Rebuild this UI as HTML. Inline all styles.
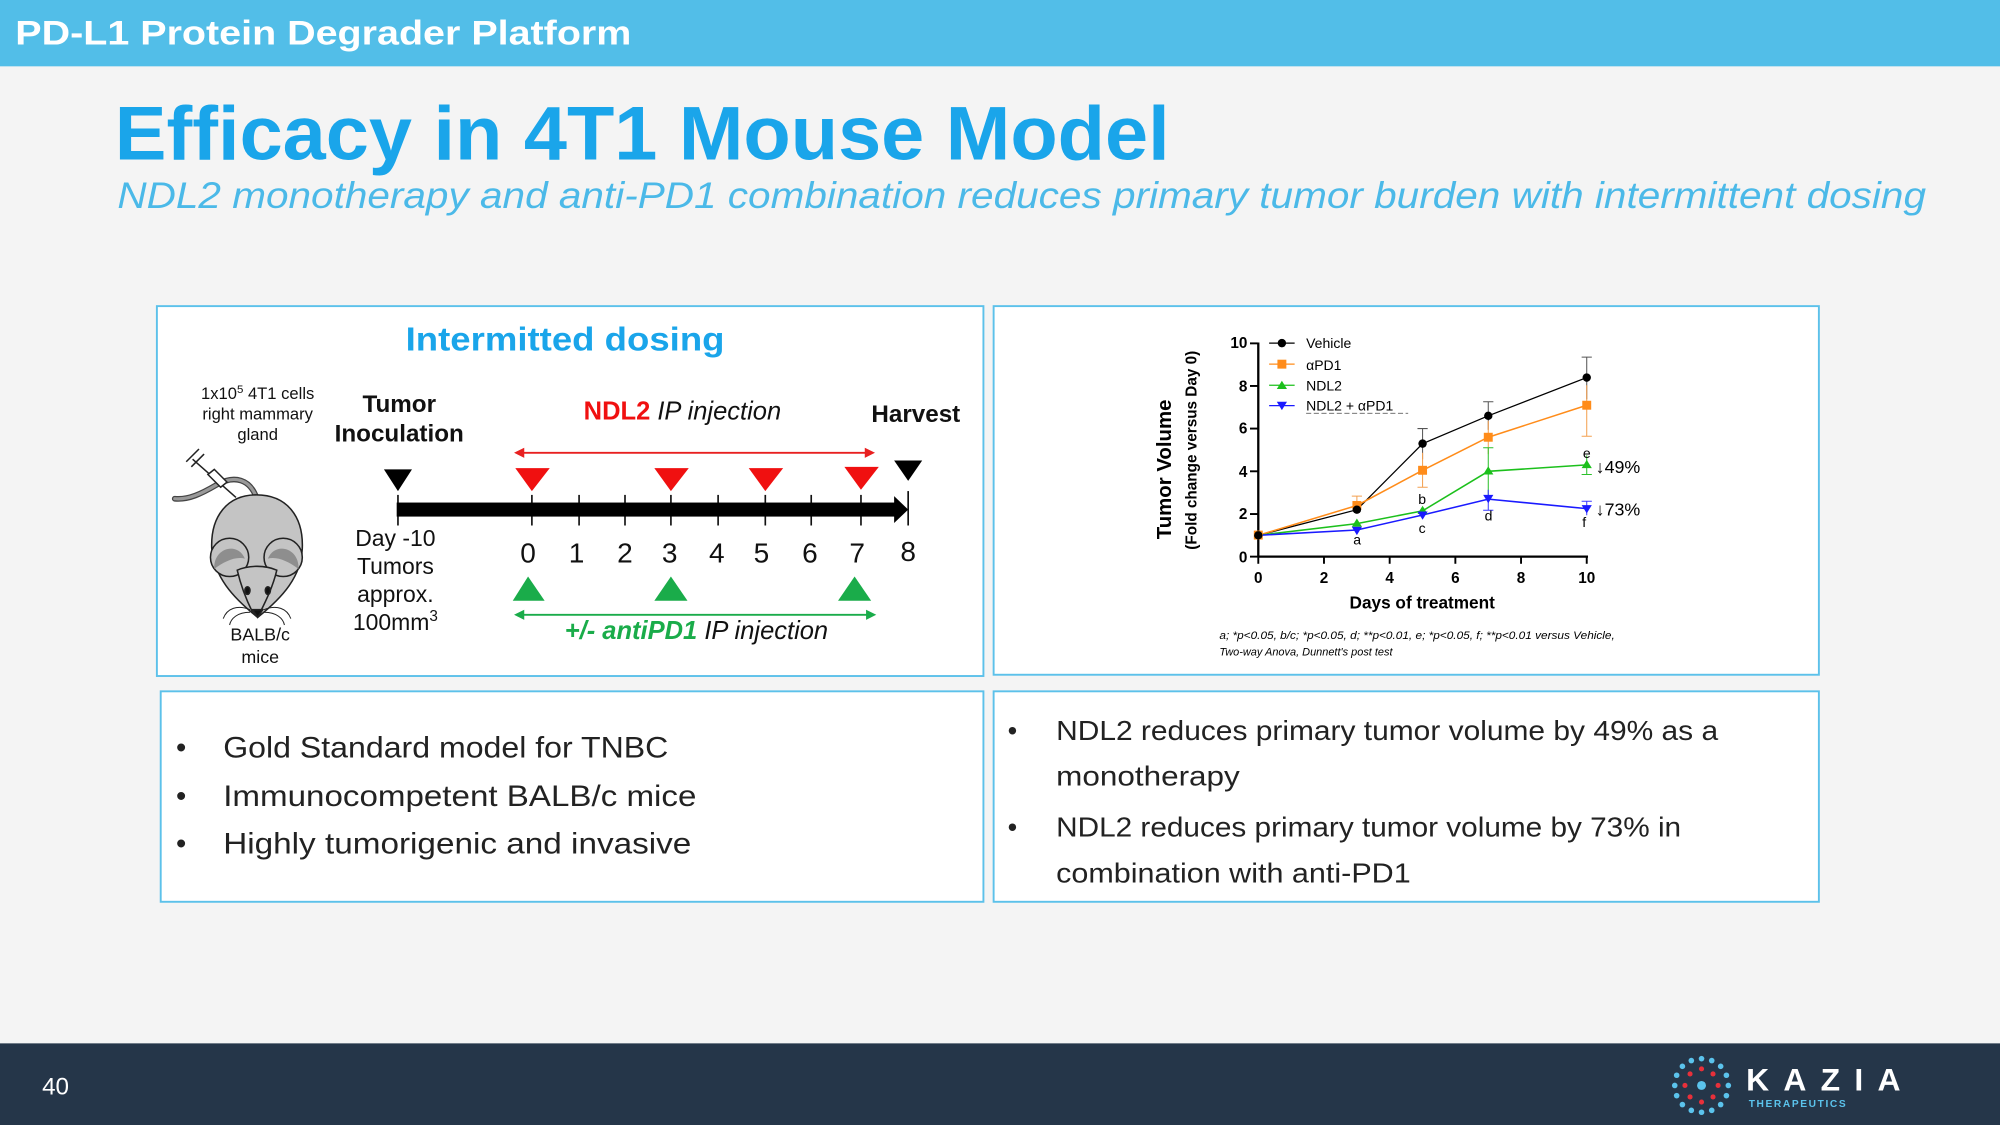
<!DOCTYPE html>
<html><head><meta charset="utf-8"><style>
html,body{margin:0;padding:0;background:#f4f4f4}
svg{display:block}
text{font-family:"Liberation Sans",sans-serif}
</style></head><body>
<svg width="2000" height="1125" viewBox="0 0 1568 882" xmlns="http://www.w3.org/2000/svg">
<rect width="1568" height="882" fill="#f4f4f4"/>
<rect width="1568" height="52" fill="#52bee8"/>
<text x="12" y="35" font-size="27" font-weight="bold" fill="#fff" textLength="483" lengthAdjust="spacingAndGlyphs">PD-L1 Protein Degrader Platform</text>
<text x="90" y="125" font-size="60" font-weight="bold" fill="#1aa5ea" textLength="827" lengthAdjust="spacingAndGlyphs">Efficacy in 4T1 Mouse Model</text>
<text x="92" y="163" font-size="29" font-style="italic" fill="#4bb9e8" textLength="1418" lengthAdjust="spacingAndGlyphs">NDL2 monotherapy and anti-PD1 combination reduces primary tumor burden with intermittent dosing</text>

<g fill="#fff" stroke="#5cc1ea" stroke-width="1.5">
<rect x="123" y="240" width="648" height="290"/>
<rect x="779" y="240" width="647" height="289"/>
<rect x="126" y="542" width="645" height="165"/>
<rect x="779" y="542" width="647" height="165"/>
</g>

<!-- Left diagram -->
<text x="318" y="275" font-size="26" font-weight="bold" fill="#1aa5ea" textLength="250" lengthAdjust="spacingAndGlyphs">Intermitted dosing</text>
<g font-size="13" fill="#111" text-anchor="middle">
<text x="202" y="313">1x10<tspan font-size="9" dy="-5">5</tspan><tspan dy="5"> 4T1 cells</tspan></text>
<text x="202" y="329">right mammary</text>
<text x="202" y="345">gland</text>
<text x="204" y="502" font-size="14">BALB/c</text>
<text x="204" y="520" font-size="14">mice</text>
</g>
<g font-size="19" font-weight="bold" fill="#111" text-anchor="middle">
<text x="313" y="323">Tumor</text>
<text x="313" y="346">Inoculation</text>
<text x="718" y="331">Harvest</text>
</g>
<text x="535" y="329" font-size="20" text-anchor="middle"><tspan fill="#f01010" font-weight="bold">NDL2</tspan><tspan font-style="italic" fill="#111"> IP injection</tspan></text>
<text x="546" y="501" font-size="20" text-anchor="middle"><tspan fill="#1aac4a" font-weight="bold" font-style="italic">+/- antiPD1</tspan><tspan font-style="italic" fill="#111"> IP injection</tspan></text>
<g font-size="18" fill="#111" text-anchor="middle">
<text x="310" y="428">Day -10</text>
<text x="310" y="450">Tumors</text>
<text x="310" y="472">approx.</text>
<text x="310" y="494">100mm<tspan font-size="12" dy="-7">3</tspan></text>
</g>
<g stroke="#e82020" stroke-width="1.5" fill="#e82020">
<line x1="408" y1="355" x2="681" y2="355"/>
<polygon points="403,355 411,351 411,359" stroke="none"/>
<polygon points="686,355 678,351 678,359" stroke="none"/>
</g>
<g stroke="#1aac4a" stroke-width="1.5" fill="#1aac4a">
<line x1="408" y1="482" x2="681" y2="482"/>
<polygon points="403,482 411,478 411,486" stroke="none"/>
<polygon points="687,482 679,478 679,486" stroke="none"/>
</g>
<g stroke="#111" stroke-width="1.3">
<line x1="312" y1="388" x2="312" y2="412"/>
<line x1="417" y1="388" x2="417" y2="412"/><line x1="454" y1="388" x2="454" y2="412"/>
<line x1="490" y1="388" x2="490" y2="412"/><line x1="526" y1="388" x2="526" y2="412"/>
<line x1="563" y1="388" x2="563" y2="412"/><line x1="600" y1="388" x2="600" y2="412"/>
<line x1="636" y1="388" x2="636" y2="412"/><line x1="675" y1="388" x2="675" y2="412"/>
<line x1="712" y1="385" x2="712" y2="412"/>
</g>
<rect x="311" y="394" width="392" height="11" fill="#000"/>
<polygon points="701,389 712,399.5 701,410" fill="#000"/>
<g fill="#000">
<polygon points="301,368 323,368 312,385"/>
<polygon points="701,361 723,361 712,377"/>
</g>
<g fill="#f01010">
<polygon points="404,367 431,367 417,385"/>
<polygon points="513,367 540,367 526,385"/>
<polygon points="587,367 614,367 600,385"/>
<polygon points="662,366 689,366 675,384"/>
</g>
<g fill="#1aac4a">
<polygon points="402,471 427,471 414,452"/>
<polygon points="513,471 539,471 526,452"/>
<polygon points="657,471 683,471 670,452"/>
</g>
<g font-size="22" fill="#111" text-anchor="middle">
<text x="414" y="441">0</text><text x="452" y="441">1</text><text x="490" y="441">2</text>
<text x="525" y="441">3</text><text x="562" y="441">4</text><text x="597" y="441">5</text>
<text x="635" y="441">6</text><text x="672" y="441">7</text><text x="712" y="440">8</text>
</g>
<!-- mouse -->
<g stroke="#222" stroke-width="1.2">
<path d="M201,390 C196,376 184,372 170,380 C158,387 148,392 137,391" fill="none" stroke="#444" stroke-width="4.5" stroke-linecap="round"/>
<path d="M201,390 C196,376 184,372 170,380 C158,387 148,392 137,391" fill="none" stroke="#999" stroke-width="2.5" stroke-linecap="round"/>
<line x1="151" y1="360" x2="185" y2="390"/>
<line x1="146" y1="362" x2="156" y2="352"/>
<line x1="150" y1="366" x2="160" y2="356"/>
<path d="M163,372 L173,382 L178,378 L168,368 Z" fill="#fff"/>
<path d="M201,388 C225,388 238,405 237,430 C236,452 222,468 202,484 C182,468 168,452 166,430 C165,405 178,388 201,388 Z" fill="#c4c4c4"/>
<circle cx="180" cy="437" r="15" fill="#c4c4c4"/>
<circle cx="222" cy="437" r="15" fill="#c4c4c4"/>
<path d="M168,446 C167,430 186,424 192,438 C185,436 176,440 168,446 Z" fill="#8e8e8e" stroke="none"/>
<path d="M234,446 C235,430 216,424 210,438 C217,436 226,440 234,446 Z" fill="#8e8e8e" stroke="none"/>
<path d="M186,447 C195,443 208,443 217,447 C214,460 208,472 204,480 C202,483 200,483 198,480 C194,472 189,460 186,447 Z" fill="#c4c4c4"/>
<ellipse cx="194" cy="463" rx="2" ry="3" fill="#111"/>
<ellipse cx="210" cy="463" rx="2" ry="3" fill="#111"/>
<path d="M198,478 L206,478 L202,484 Z" fill="#111"/>
<path d="M196,478 C186,474 178,477 175,485 M196,480 C186,480 181,485 180,490 M207,478 C217,474 225,477 228,485 M207,480 C217,480 222,485 223,490" fill="none" stroke-width="0.8"/>
</g>

<!-- Chart -->
<g stroke="#000" stroke-width="1.8" fill="none">
<line x1="986.5" y1="268.5" x2="986.5" y2="437"/>
<line x1="986" y1="436.4" x2="1245" y2="436.4"/>
</g>
<g stroke="#000" stroke-width="1.5">
<line x1="980" y1="436.4" x2="986" y2="436.4"/><line x1="980" y1="403" x2="986" y2="403"/>
<line x1="980" y1="369.5" x2="986" y2="369.5"/><line x1="980" y1="336" x2="986" y2="336"/>
<line x1="980" y1="302.6" x2="986" y2="302.6"/><line x1="980" y1="269.2" x2="986" y2="269.2"/>
<line x1="986.5" y1="436" x2="986.5" y2="442"/><line x1="1038" y1="436" x2="1038" y2="442"/>
<line x1="1089.5" y1="436" x2="1089.5" y2="442"/><line x1="1141" y1="436" x2="1141" y2="442"/>
<line x1="1192.5" y1="436" x2="1192.5" y2="442"/><line x1="1244" y1="436" x2="1244" y2="442"/>
</g>
<g font-size="12" font-weight="bold" fill="#000" text-anchor="end">
<text x="978" y="441">0</text><text x="978" y="407">2</text><text x="978" y="374">4</text>
<text x="978" y="340">6</text><text x="978" y="307">8</text><text x="978" y="273">10</text>
</g>
<g font-size="12" font-weight="bold" fill="#000" text-anchor="middle">
<text x="986.5" y="457">0</text><text x="1038" y="457">2</text><text x="1089.5" y="457">4</text>
<text x="1141" y="457">6</text><text x="1192.5" y="457">8</text><text x="1244" y="457">10</text>
<text x="1115" y="477" font-size="13.5">Days of treatment</text>
</g>
<text transform="translate(918,368) rotate(-90)" font-size="16" font-weight="bold" text-anchor="middle">Tumor Volume</text>
<text transform="translate(938,353) rotate(-90)" font-size="12" font-weight="bold" text-anchor="middle">(Fold change versus Day 0)</text>
<g stroke-width="0.8" fill="none">
<path d="M1244,280 V313 M1240,280 H1248 M1166.8,315 V337 M1162.8,315 H1170.8 M1115.3,336 V360 M1111.3,336 H1119.3" stroke="#555"/>
<path d="M1244,302 V342 M1240,342 H1248 M1063.8,389 V402 M1059.8,389 H1067.8 M1115.3,355 V382 M1111.3,382 H1119.3 M1166.8,330 V356" stroke="#f4a050"/>
<path d="M1166.8,351 V388 M1162.8,351 H1170.8 M1244,357 V372 M1240,372 H1248" stroke="#2cc02c"/>
<path d="M1166.8,384 V400 M1162.8,400 H1170.8 M1244,393 V404 M1240,393 H1248" stroke="#3a3aff"/>
</g>
<polyline points="986.5,419.7 1063.8,399.6 1115.3,347.8 1166.8,326 1244,296" fill="none" stroke="#000" stroke-width="1"/>
<polyline points="986.5,419.7 1063.8,396.3 1115.3,368.7 1166.8,342.8 1244,317.7" fill="none" stroke="#ff8c1a" stroke-width="1.2"/>
<polyline points="986.5,419.7 1063.8,410.5 1115.3,400.5 1166.8,369.5 1244,364.5" fill="none" stroke="#1cc01c" stroke-width="1.2"/>
<polyline points="986.5,419.7 1063.8,415.5 1115.3,403.8 1166.8,391.3 1244,398.8" fill="none" stroke="#1a1aff" stroke-width="1.2"/>
<g fill="#ff8c1a"><rect x="983" y="416" width="7" height="7"/><rect x="1060.3" y="392.8" width="7" height="7"/><rect x="1111.8" y="365.2" width="7" height="7"/><rect x="1163.3" y="339.3" width="7" height="7"/><rect x="1240.5" y="314.2" width="7" height="7"/></g>
<g fill="#000"><circle cx="986.5" cy="419.7" r="3.3"/><circle cx="1063.8" cy="399.6" r="3.3"/><circle cx="1115.3" cy="347.8" r="3.3"/><circle cx="1166.8" cy="326" r="3.3"/><circle cx="1244" cy="296" r="3.3"/></g>
<g fill="#1cc01c"><polygon points="1063.8,406.5 1067.8,413 1059.8,413"/><polygon points="1115.3,396.5 1119.3,403 1111.3,403"/><polygon points="1166.8,365.5 1170.8,372 1162.8,372"/><polygon points="1244,360.5 1248,367 1240,367"/></g>
<g fill="#1a1aff"><polygon points="1059.8,413 1067.8,413 1063.8,419.5"/><polygon points="1111.3,401 1119.3,401 1115.3,407.5"/><polygon points="1162.8,388 1170.8,388 1166.8,394.5"/><polygon points="1240,396 1248,396 1244,402.5"/></g>
<g stroke-width="1">
<line x1="995" y1="269" x2="1015" y2="269" stroke="#000"/><circle cx="1005" cy="269" r="3.3" fill="#000"/>
<line x1="995" y1="285.5" x2="1015" y2="285.5" stroke="#ff8c1a"/><rect x="1001.5" y="282" width="7" height="7" fill="#ff8c1a"/>
<line x1="995" y1="302" x2="1015" y2="302" stroke="#1cc01c"/><polygon points="1005,298.5 1009,305 1001,305" fill="#1cc01c"/>
<line x1="995" y1="318" x2="1015" y2="318" stroke="#1a1aff"/><polygon points="1001,315 1009,315 1005,321.5" fill="#1a1aff"/>
</g>
<g font-size="11" fill="#000">
<text x="1024" y="273">Vehicle</text><text x="1024" y="290">αPD1</text>
<text x="1024" y="306">NDL2</text><text x="1024" y="322">NDL2 + αPD1</text>
</g>
<line x1="1024" y1="324" x2="1104" y2="324" stroke="#444" stroke-width="0.6" stroke-dasharray="4,2"/>
<g font-size="11" fill="#000" text-anchor="middle">
<text x="1064" y="427">a</text><text x="1115" y="395">b</text><text x="1115" y="418">c</text>
<text x="1167" y="408">d</text><text x="1244" y="359">e</text><text x="1242" y="413">f</text>
</g>
<text x="1251" y="371" font-size="14" fill="#000">↓49%</text>
<text x="1251" y="404" font-size="14" fill="#000">↓73%</text>
<g font-size="8.6" font-style="italic" fill="#000">
<text x="956" y="501" textLength="310" lengthAdjust="spacingAndGlyphs">a; *p&lt;0.05, b/c; *p&lt;0.05, d; **p&lt;0.01, e; *p&lt;0.05, f; **p&lt;0.01 versus Vehicle,</text>
<text x="956" y="514">Two-way Anova, Dunnett's post test</text>
</g>

<g font-size="23" fill="#222">
<text x="138" y="594">•</text><text x="175" y="594" textLength="349" lengthAdjust="spacingAndGlyphs">Gold Standard model for TNBC</text>
<text x="138" y="632">•</text><text x="175" y="632" textLength="371" lengthAdjust="spacingAndGlyphs">Immunocompetent BALB/c mice</text>
<text x="138" y="669">•</text><text x="175" y="669" textLength="367" lengthAdjust="spacingAndGlyphs">Highly tumorigenic and invasive</text>
</g>
<g font-size="21.5" fill="#222">
<text x="790" y="580">•</text><text x="828" y="580" textLength="519" lengthAdjust="spacingAndGlyphs">NDL2 reduces primary tumor volume by 49% as a</text>
<text x="828" y="616" textLength="144" lengthAdjust="spacingAndGlyphs">monotherapy</text>
<text x="790" y="656">•</text><text x="828" y="656" textLength="490" lengthAdjust="spacingAndGlyphs">NDL2 reduces primary tumor volume by 73% in</text>
<text x="828" y="692" textLength="278" lengthAdjust="spacingAndGlyphs">combination with anti-PD1</text>
</g>

<rect x="0" y="818" width="1568" height="64" fill="#253649"/>
<text x="33" y="858" font-size="19" fill="#fff">40</text>
<g fill="#5bc3ec">
<circle cx="1334" cy="851" r="3.5"/>
<circle cx="1334" cy="830" r="2.2"/><circle cx="1334" cy="872" r="2.2"/><circle cx="1313" cy="851" r="2.2"/><circle cx="1355" cy="851" r="2.2"/>
<circle cx="1349" cy="836" r="2.2"/><circle cx="1319" cy="836" r="2.2"/><circle cx="1349" cy="866" r="2.2"/><circle cx="1319" cy="866" r="2.2"/>
<circle cx="1342" cy="831.5" r="2.2"/><circle cx="1326" cy="831.5" r="2.2"/><circle cx="1342" cy="870.5" r="2.2"/><circle cx="1326" cy="870.5" r="2.2"/>
<circle cx="1314.5" cy="843" r="2.2"/><circle cx="1314.5" cy="859" r="2.2"/><circle cx="1353.5" cy="843" r="2.2"/><circle cx="1353.5" cy="859" r="2.2"/>
</g>
<g fill="#e8303a">
<circle cx="1334" cy="838" r="2"/><circle cx="1334" cy="864" r="2"/><circle cx="1321" cy="851" r="2"/><circle cx="1347" cy="851" r="2"/>
<circle cx="1343" cy="842" r="2"/><circle cx="1325" cy="842" r="2"/><circle cx="1343" cy="860" r="2"/><circle cx="1325" cy="860" r="2"/>
</g>
<text x="1369" y="855" font-size="25" font-weight="bold" fill="#fff" textLength="121">KAZIA</text>
<text x="1371" y="868" font-size="8" font-weight="bold" fill="#5bc3ec" textLength="76">THERAPEUTICS</text>
</svg>
</body></html>
